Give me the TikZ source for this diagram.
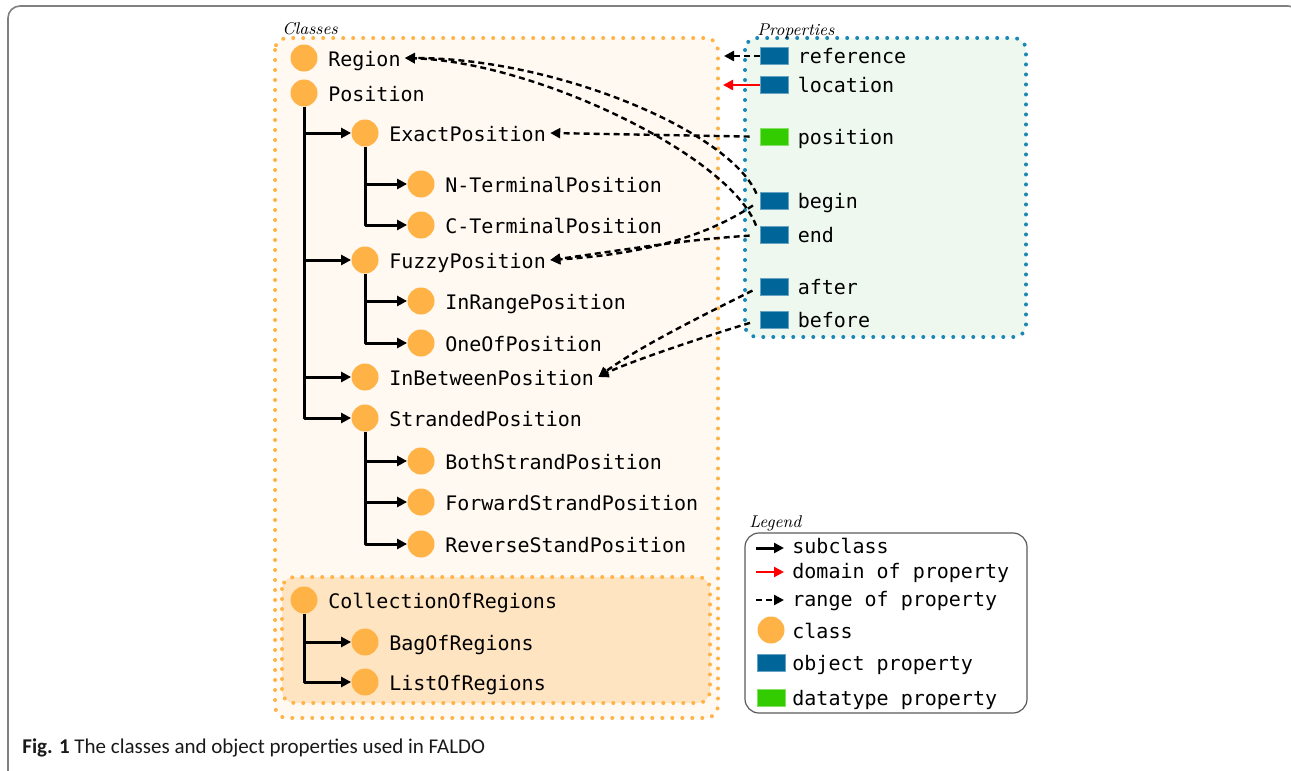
\documentclass[tikz,border=0pt]{standalone}
\usepackage{fontspec}
\setmonofont{DejaVu Sans Mono}
\newfontfamily\capfont{Carlito}
\usetikzlibrary{arrows.meta,positioning}
\definecolor{classor}{HTML}{FFB347}
\definecolor{classbg}{HTML}{FFF9F2}
\definecolor{collbg}{HTML}{FFE4C2}
\definecolor{propbg}{HTML}{EEF8EE}
\definecolor{propdot}{HTML}{1B87B5}
\definecolor{objblue}{HTML}{00669A}
\definecolor{datagreen}{HTML}{33CC00}
\definecolor{framegray}{HTML}{808080}
\begin{document}
\begin{tikzpicture}[x=0.5pt,y=-0.5pt,font=\ttfamily\fontsize{10}{12}\selectfont, line join=round, >={Triangle[length=5pt,width=5pt]},
	classdot/.style={circle,fill=classor,minimum size=13.5pt,inner sep=0pt},
	objprop/.style={rectangle,fill=objblue,draw=objblue!60!white,line width=0.4pt,minimum width=14pt,minimum height=8.5pt,inner sep=0pt},
	dataprop/.style={objprop,fill=datagreen,draw=datagreen!60!white},
	ctxt/.style={inner xsep=2pt,inner ysep=0pt,text height=9pt,text depth=1pt},
	ptxt/.style={inner xsep=2pt,inner ysep=0pt,text height=8pt,text depth=1pt},
	ltxt/.style={anchor=base west,inner xsep=2pt,inner ysep=0pt},
	boxlbl/.style={anchor=base west,inner sep=0pt,font=\rmfamily\itshape\fontsize{8.5}{10}\selectfont},
	dots/.style={line width=2pt,line cap=round,dash pattern=on 0pt off 5pt},
	sub/.style={->,line width=1.5pt},
	dom/.style={->,line width=1.2pt,red},
	rng/.style={->,line width=1.2pt,dash pattern=on 3pt off 2pt}]
	\useasboundingbox (0,0) rectangle (1291,771);
	%%Khung ngoài
	\draw[framegray,line width=0.8pt,rounded corners=6pt] (8,6) rectangle (1300,830);
	%%Các khung nền
	\draw[dots,classor,fill=classbg,rounded corners=6pt] (275,38) rectangle (718,718);
	\draw[dots,classor,fill=collbg,rounded corners=6pt] (282,577) rectangle (710,703);
	\draw[dots,propdot,fill=propbg,rounded corners=6pt] (745,38) rectangle (1026,337);
	\draw[framegray!70!black,line width=0.6pt,rounded corners=7pt] (745,533) rectangle (1027,713);
	\node[boxlbl] (classes-l) at (282,34) {Classes};
	\node[boxlbl] (props-l) at (757,35) {Properties};
	\node[boxlbl] (legend-l) at (749,527) {Legend};
	%%Các lớp
	\foreach \n/\x/\y/\t in {region/304/58/Region, position/304/93/Position,
		exact/365/133/ExactPosition, nterm/421/184/N-TerminalPosition, cterm/421/225/C-TerminalPosition,
		fuzzy/365/260/FuzzyPosition, inrange/421/301/InRangePosition, oneof/421/343/OneOfPosition,
		inbetween/365/377/InBetweenPosition, stranded/365/418/StrandedPosition,
		both/421/461/BothStrandPosition, forward/421/502/ForwardStrandPosition, reverse/421/544/ReverseStandPosition,
		collection/304/600/CollectionOfRegions, bag/365/642/BagOfRegions, list/365/682/ListOfRegions}
	{
		\node[classdot] (\n) at (\x,\y) {};
		\node[ctxt,right=3pt of \n] (\n-t) {\t};
	}
	\foreach \a/\b in {position/exact, position/fuzzy, position/inbetween, position/stranded,
		exact/nterm, exact/cterm, fuzzy/inrange, fuzzy/oneof,
		stranded/both, stranded/forward, stranded/reverse, collection/bag, collection/list}
	\draw[sub] (\a) |- (\b);
	%%Thuộc tính
	\foreach \n/\y/\t/\s in {pref/56/reference/objprop, ploc/85/location/objprop, ppos/137/position/dataprop,
		pbegin/201/begin/objprop, pend/235/end/objprop, pafter/287/after/objprop, pbefore/320/before/objprop}
	{
		\node[\s] (\n) at (774,\y) {};
		\node[ptxt,right=2.5pt of \n] (\n-t) {\t};
	}
	\coordinate (refend) at (724,56);
	\coordinate (locend) at (723,85);
	\draw[rng] (pref) -- (refend);
	\draw[dom] (ploc) -- (locend);
	\draw[rng,shorten <=5pt] (ppos) -- (exact-t.east);
	\draw[rng,shorten <=4pt] (pbegin.west) .. controls +(-30,-70) and +(150,0) .. (region-t.east);
	\draw[rng,shorten <=5pt] (pend.west) .. controls +(-30,-80) and +(130,4) .. (region-t.east);
	\draw[rng,shorten <=4pt] (pbegin.west) .. controls +(-60,40) and +(80,-5) .. (fuzzy-t.east);
	\draw[rng,shorten <=5pt] (pend.west) .. controls +(-80,5) and +(60,-8) .. (fuzzy-t.east);
	\draw[rng,shorten <=4pt] (pafter.west) .. controls +(-50,25) and +(40,-30) .. (inbetween-t.east);
	\draw[rng,shorten <=5pt] (pbefore.west) .. controls +(-50,15) and +(30,-15) .. (inbetween-t.east);
	%%Chú thích
	\coordinate (lgs) at (756,548); \coordinate (lgse) at (784,548);
	\coordinate (lgd) at (756,572); \coordinate (lgde) at (784,572);
	\coordinate (lgr) at (756,600); \coordinate (lgre) at (784,600);
	\draw[sub] (lgs) -- (lgse);
	\draw[dom] (lgd) -- (lgde);
	\draw[rng] (lgr) -- (lgre);
	\node[classdot] (lgclass) at (771,630) {};
	\node[objprop] (lgobj) at (771,663) {};
	\node[dataprop] (lgdata) at (771,698) {};
	\node[ltxt] (lgs-t) at (788,553) {subclass};
	\node[ltxt] (lgd-t) at (788,578) {domain of property};
	\node[ltxt] (lgr-t) at (788,606) {range of property};
	\node[ltxt] (lgclass-t) at (788,638) {class};
	\node[ltxt] (lgobj-t) at (788,670) {object property};
	\node[ltxt] (lgdata-t) at (788,705) {datatype property};
	%%Tiêu đề hình
	\node[anchor=base west,inner sep=0pt,font=\capfont\fontsize{10.5}{12}\selectfont,text=black!90] (caption) at (22,753) {\textbf{Fig. 1} The classes and object properties used in FALDO};
\end{tikzpicture}
\end{document}
